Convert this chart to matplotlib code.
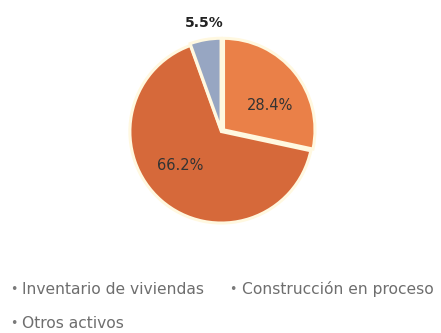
import matplotlib
matplotlib.use('Agg')
import matplotlib.pyplot as plt

categories = ['Inventario de viviendas', 'Construcción en proceso', 'Otros activos']
shares = [28.4, 66.2, 5.5]
pct_labels = ['28.4%', '66.2%', '5.5%']
colors = ['#EA8048', '#D6693A', '#97A6C2']

fig = plt.figure(figsize=(4.41, 3.33), dpi=100)
# pie centre ~ (221, 131) px, radius ~ 91 px
ax = fig.add_axes([0.502 - 0.2075, 0.605 - 0.2748, 0.415, 0.5495])

wedges, _ = ax.pie(shares, colors=colors, startangle=90, counterclock=False,
                   explode=[0.03, 0, 0.02],
                   wedgeprops=dict(edgecolor='#FFF8E0', linewidth=2.2))
ax.set_aspect('equal')
ax.set_xlim(-1.0, 1.0)
ax.set_ylim(-1.0, 1.0)

# labels: two inside, the small one above the pie
ax.text(0.53, 0.29, pct_labels[0], ha='center', va='center', fontsize=10.5, color='#333333')
ax.text(-0.45, -0.37, pct_labels[1], ha='center', va='center', fontsize=10.5, color='#333333')
ax.text(-0.19, 1.19, pct_labels[2], ha='center', va='center', fontsize=10, color='#222222',
        fontweight='bold')

# legend as plain text rows (bullet + name)
leg_pos = [(0.022, 1 - 289 / 333), (0.52, 1 - 289 / 333), (0.022, 1 - 324 / 333)]
for (x, y), name in zip(leg_pos, categories):
    fig.text(x, y, '•', fontsize=9, color='#7a7a7a', va='center')
    fig.text(x + 0.028, y, name, fontsize=11.2, color='#6e6e6e', va='center')

fig.savefig('out.png', dpi=100)
